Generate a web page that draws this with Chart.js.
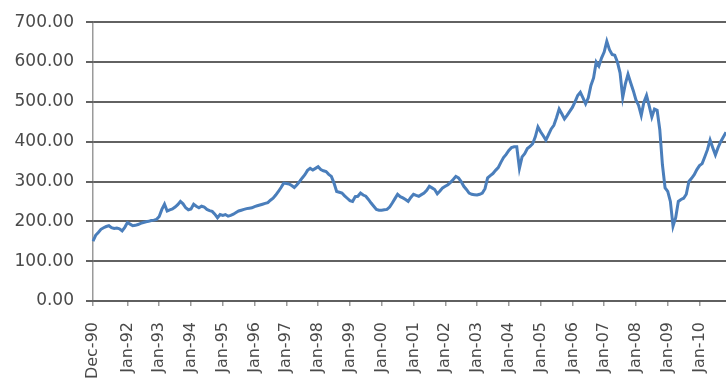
<!DOCTYPE html>
<html lang="en">
<head>
  <meta charset="UTF-8" />
  <title>Index, Dec-90 to Nov-10</title>
  <script src="https://cdn.jsdelivr.net/npm/chart.js"></script>
  <style>
    body{margin:0;padding:0;background:#fff}
    #wrap{position:relative;width:726px;height:386px}
  </style>
</head>
<body>
<div id="wrap"><canvas id="grafico"></canvas></div>
<script>
/* ---------- data (monthly, Dec-90 .. Nov-10) ---------- */
const monthNames = ["Jan","Feb","Mar","Apr","May","Jun","Jul","Aug","Sep","Oct","Nov","Dec"];

const values = [
  150,
  // 1991
  165,172,180,184,187,189,184,182,183,181,176,185,
  // 1992
  197,193,189,190,192,195,197,199,200,202,203,205,
  // 1993
  212,230,243,226,229,231,236,242,250,244,234,229,
  // 1994
  231,243,238,234,238,236,230,227,225,218,209,217,
  // 1995
  215,217,213,215,218,222,226,228,230,232,233,234,
  // 1996
  237,239,241,243,245,247,253,258,266,275,285,296,
  // 1997
  295,294,290,285,292,300,309,317,328,333,329,333,
  // 1998
  337,330,327,325,318,313,296,275,273,271,264,258,
  // 1999
  252,250,262,263,271,266,263,255,246,238,230,228,
  // 2000
  228,229,230,236,246,257,268,262,259,255,250,260,
  // 2001
  268,265,263,267,271,278,288,284,280,269,276,284,
  // 2002
  288,292,298,305,313,309,300,288,280,271,268,267,
  // 2003
  266,268,271,282,309,315,320,328,335,348,360,368,
  // 2004
  378,385,387,387,333,362,370,383,388,395,412,437,
  // 2005
  425,415,404,418,432,441,460,482,470,457,466,476,
  // 2006
  486,500,516,524,510,495,510,541,560,600,590,610,
  // 2007
  625,652,631,619,617,600,573,511,545,569,548,528,
  // 2008
  505,491,466,499,516,490,462,482,479,430,342,284,
  // 2009
  275,250,188,209,250,255,258,268,300,308,317,330,
  // 2010 (to Nov)
  340,345,362,380,404,385,367,385,400,412,424
];

// month labels, starting Dec-90
const months = values.map((_, i) => {
  const m = (11 + i) % 12;
  const y = (1990 + Math.floor((11 + i) / 12)) % 100;
  return monthNames[m] + "-" + String(y).padStart(2, "0");
});

// the only labels printed on the x axis
const shownLabels = ["Dec-90","Jan-92","Jan-93","Jan-94","Jan-95","Jan-96","Jan-97","Jan-98","Jan-99",
  "Jan-00","Jan-01","Jan-02","Jan-03","Jan-04","Jan-05","Jan-06","Jan-07","Jan-08","Jan-09","Jan-10"];

const yMin = 0, yMax = 700, yStep = 100;

/* ---------- gridlines, drawn again on top of the grid from the y scale ticks ---------- */
const lineasY = {
  id: "lineasY",
  beforeDatasetsDraw(chart) {
    const {ctx, chartArea: a, scales: {y}} = chart;
    ctx.save();
    ctx.strokeStyle = "rgba(0,0,0,0.38)";
    ctx.lineWidth = 2;
    y.ticks.forEach(t => {
      const py = Math.round(y.getPixelForValue(t.value));
      ctx.beginPath();
      ctx.moveTo(a.left - 7, py);
      ctx.lineTo(a.right, py);
      ctx.stroke();
    });
    ctx.restore();
  }
};

/* ---------- chart ---------- */
new Chart(document.getElementById("grafico"), {
  type: "line",
  data: {
    labels: months,
    datasets: [{
      data: values,
      borderColor: "#4a7ebb",
      borderWidth: 3,
      pointRadius: 0,
      tension: 0,
      fill: false
    }]
  },
  options: {
    responsive: true,
    maintainAspectRatio: false,
    animation: false,
    layout: {padding: {top: 10}},
    plugins: {legend: {display: false}, tooltip: {enabled: false}},
    scales: {
      x: {
        offset: false,
        grid: {display: true, drawOnChartArea: false, drawTicks: true, tickLength: 5, color: "#9a9a9a", lineWidth: 1.5},
        border: {color: "#9a9a9a", width: 1.5},
        ticks: {
          autoSkip: false,
          minRotation: 90,
          maxRotation: 90,
          padding: 16,
          color: "#4a4a4a",
          font: {family: "'DejaVu Sans', sans-serif", size: 16},
          callback: (v, i) => shownLabels.includes(months[i]) ? months[i] : null
        },
        afterFit: s => { s.height = 85; s.paddingLeft = 0; s.paddingRight = 0; }
      },
      y: {
        min: yMin,
        max: yMax,
        ticks: {
          stepSize: yStep,
          padding: 12,
          color: "#4a4a4a",
          font: {family: "'DejaVu Sans', sans-serif", size: 17},
          callback: v => Number(v).toFixed(2)
        },
        grid: {display: true, drawOnChartArea: true, color: "rgba(0,0,0,0.38)", lineWidth: 2, tickLength: 7},
        border: {color: "#9a9a9a", width: 1.5},
        afterFit: s => { s.width = 93; }
      }
    }
  },
  plugins: [lineasY]
});
</script>
</body>
</html>
